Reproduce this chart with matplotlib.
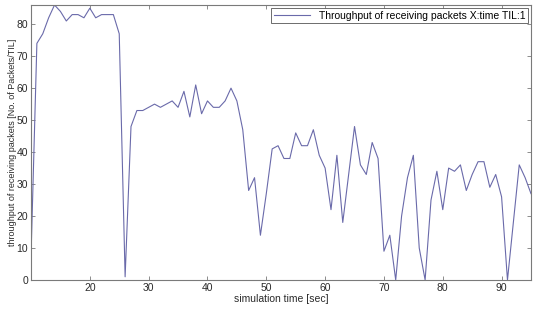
import matplotlib
matplotlib.use("Agg")
import matplotlib.pyplot as plt

plt.rcParams["font.family"] = ["Liberation Sans", "DejaVu Sans"]

# simulation time (sec) and throughput
sim_time = list(range(10, 96))
throughput = [
    7, 74, 77, 82, 86, 84, 81, 83, 83, 82,          # 10-19
    85, 82, 83, 83, 83, 77, 1, 48, 53, 53,          # 20-29
    54, 55, 54, 55, 56, 54, 59, 51, 61, 52,         # 30-39
    56, 54, 54, 56, 60, 56, 47, 28, 32, 14,         # 40-49
    27, 41, 42, 38, 38, 46, 42, 42, 47, 39,         # 50-59
    35, 22, 39, 18, 33, 48, 36, 33, 43, 38,         # 60-69
    9, 14, 0, 20, 32, 39, 10, 0, 25, 34,            # 70-79
    22, 35, 34, 36, 28, 33, 37, 37, 29, 33,         # 80-89
    26, 0, 18, 36, 32, 27,                          # 90-95
]
legend_label = "Throughput of receiving packets X:time TIL:1"

fig = plt.figure(figsize=(5.4, 3.1), dpi=100)
ax = fig.add_axes([31 / 540, 30 / 310, 500 / 540, 275 / 310])

ax.plot(sim_time, throughput, color="#6a6aaa", linewidth=0.8, label=legend_label)

ax.set_xlim(10, 95)
ax.set_ylim(0, 86)
ax.set_xticks(range(20, 100, 10))
ax.set_yticks(range(0, 90, 10))

for s in ax.spines.values():
    s.set_color("#7a7a7a")
    s.set_linewidth(0.8)
ax.tick_params(direction="in", length=3, width=0.6, colors="#7a7a7a",
               labelcolor="#2a2a2a", labelsize=7.5, top=True, right=True, pad=2)

ax.set_xlabel("simulation time [sec]", fontsize=7.5, color="#2a2a2a", labelpad=1)
ax.set_ylabel("throughput of receiving packets [No. of Packets/TIL]", fontsize=6.5,
              color="#2a2a2a", labelpad=0)

leg = ax.legend(loc="upper right", fontsize=7.5, fancybox=False, framealpha=1,
                borderpad=0.25, handlelength=3.5, borderaxespad=0.3)
leg.get_frame().set_edgecolor("#555555")
leg.get_frame().set_linewidth(0.6)

fig.savefig("out.png", dpi=100)
